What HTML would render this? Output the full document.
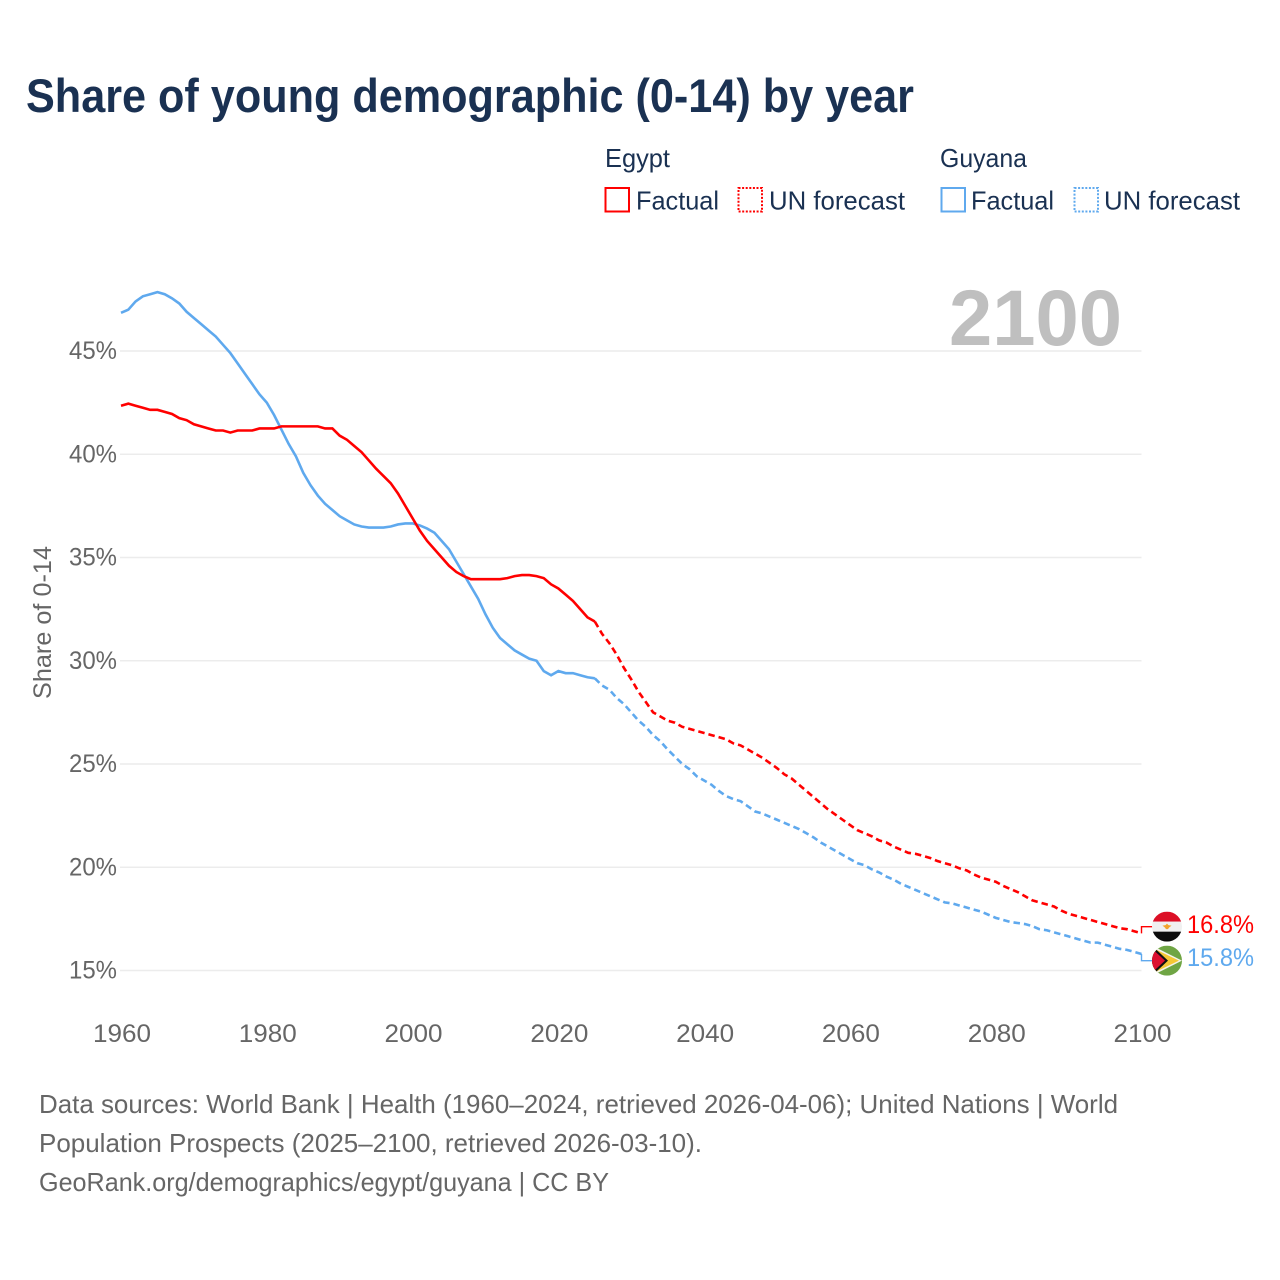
<!DOCTYPE html>
<html lang="en">
<head>
<meta charset="utf-8">
<title>Share of young demographic (0-14) by year</title>
<style>
  html, body { margin: 0; padding: 0; background: #fff; }
  svg { display: block; }
  text { font-family: "Liberation Sans", sans-serif; }
</style>
</head>
<body>
<svg id="chart" xmlns="http://www.w3.org/2000/svg" width="1280" height="1280" viewBox="0 0 1280 1280">
  <defs>
    <clipPath id="flag-clip-egypt"><circle cx="0" cy="0" r="15"></circle></clipPath>
    <clipPath id="flag-clip-guyana"><circle cx="0" cy="0" r="15"></circle></clipPath>
  </defs>
  <rect width="1280" height="1280" fill="#fff"></rect>

  <text x="26" y="112" font-size="47" font-weight="700" fill="#1a3152" textLength="888" lengthAdjust="spacingAndGlyphs">Share of young demographic (0-14) by year</text>

  <g font-size="26" fill="#1a3152">
    <text x="605" y="167" textLength="65" lengthAdjust="spacingAndGlyphs">Egypt</text>
    <rect x="605.5" y="188" width="23.5" height="23.5" fill="none" stroke="#ff0000" stroke-width="2"></rect>
    <text x="636" y="209.5" textLength="83" lengthAdjust="spacingAndGlyphs">Factual</text>
    <rect x="738.5" y="188" width="23.5" height="23.5" fill="none" stroke="#ff0000" stroke-width="2" stroke-dasharray="2 1.6"></rect>
    <text x="769" y="209.5" textLength="136" lengthAdjust="spacingAndGlyphs">UN forecast</text>

    <text x="940" y="167" textLength="87" lengthAdjust="spacingAndGlyphs">Guyana</text>
    <rect x="941.5" y="188" width="23.5" height="23.5" fill="none" stroke="#5fa9ee" stroke-width="2"></rect>
    <text x="971" y="209.5" textLength="83" lengthAdjust="spacingAndGlyphs">Factual</text>
    <rect x="1074.5" y="188" width="23.5" height="23.5" fill="none" stroke="#5fa9ee" stroke-width="2" stroke-dasharray="2 1.6"></rect>
    <text x="1104" y="209.5" textLength="136" lengthAdjust="spacingAndGlyphs">UN forecast</text>
  </g>

  <g id="grid"></g>

  <text x="1122" y="345" text-anchor="end" font-size="79" font-weight="700" fill="#bfbfbf" textLength="173" lengthAdjust="spacingAndGlyphs">2100</text>

  <g id="y-ticks"></g>
  <g id="x-ticks"></g>

  <text transform="translate(51 699) rotate(-90)" font-size="25" fill="#666" textLength="153" lengthAdjust="spacingAndGlyphs">Share of 0-14</text>

  <g id="series"></g>

  <g id="flag-egypt">
    <g clip-path="url(#flag-clip-egypt)">
      <rect x="-15" y="-15" width="30" height="10" fill="#dc0f26"></rect>
      <rect x="-15" y="-5" width="30" height="10" fill="#f0f0f0"></rect>
      <rect x="-15" y="5" width="30" height="10" fill="#0c0c0c"></rect>
      <path d="M-4.5 -1 L-1.5 -1.5 L0 -3 L1.5 -1.5 L4.5 -1 L2 1 L1 2.5 L-1 2.5 L-2 1 Z" fill="#f2a32c"></path>
    </g>
  </g>
  <g id="flag-guyana">
    <g clip-path="url(#flag-clip-guyana)">
      <rect x="-15" y="-15" width="30" height="30" fill="#6fa544"></rect>
      <path d="M-15 -15 L15 0 L-15 15 Z" fill="#f4f4ea"></path>
      <path d="M-15 -13 L12 0 L-15 13 Z" fill="#f6c835"></path>
      <path d="M-15 -15 L1 0 L-15 15 Z" fill="#111"></path>
      <path d="M-15 -12 L-2 0 L-15 12 Z" fill="#dc1030"></path>
    </g>
  </g>

  <text id="end-label-egypt" x="1187" y="933" font-size="25" fill="#ff0000" textLength="67" lengthAdjust="spacingAndGlyphs"></text>
  <text id="end-label-guyana" x="1187" y="966" font-size="25" fill="#5fa9ee" textLength="67" lengthAdjust="spacingAndGlyphs"></text>

  <g font-size="26" fill="#666">
    <text x="39" y="1113" textLength="1079" lengthAdjust="spacingAndGlyphs">Data sources: World Bank | Health (1960–2024, retrieved 2026-04-06); United Nations | World</text>
    <text x="39" y="1152" textLength="663" lengthAdjust="spacingAndGlyphs">Population Prospects (2025–2100, retrieved 2026-03-10).</text>
    <text x="39" y="1191" textLength="570" lengthAdjust="spacingAndGlyphs">GeoRank.org/demographics/egypt/guyana | CC BY</text>
  </g>
</svg>

<script>
const xTickYears = [1960, 1980, 2000, 2020, 2040, 2060, 2080, 2100];
const yTickValues = [15, 20, 25, 30, 35, 40, 45];
const factualFirstYear = 1960;
const forecastFirstYear = 2025;

const egyptFactual = [
  42.35,42.45,42.35,42.25,42.15,42.15,42.05,41.95,41.75,41.65,
  41.45,41.35,41.25,41.15,41.15,41.05,41.15,41.15,41.15,41.25,
  41.25,41.25,41.35,41.35,41.35,41.35,41.35,41.35,41.25,41.25,
  40.9,40.7,40.4,40.1,39.7,39.3,38.95,38.6,38.1,37.5,
  36.9,36.3,35.8,35.4,35.0,34.6,34.3,34.1,33.95,33.95,
  33.95,33.95,33.95,34.0,34.1,34.15,34.15,34.1,34.0,33.7,
  33.5,33.2,32.9,32.5,32.1,31.9
];
const guyanaFactual = [
  46.85,47.0,47.4,47.65,47.75,47.85,47.75,47.55,47.3,46.9,
  46.6,46.3,46.0,45.7,45.3,44.9,44.4,43.9,43.4,42.9,
  42.5,41.9,41.2,40.5,39.9,39.1,38.5,38.0,37.6,37.3,
  37.0,36.8,36.6,36.5,36.45,36.45,36.45,36.5,36.6,36.65,
  36.65,36.55,36.4,36.2,35.8,35.4,34.8,34.2,33.6,33.0,
  32.25,31.6,31.1,30.8,30.5,30.3,30.1,30.0,29.5,29.3,
  29.5,29.4,29.4,29.3,29.2,29.15
];
const egyptForecast = [
  31.9,31.3,30.85,30.3,29.65,29.1,28.5,28.0,27.5,27.3,
  27.1,27.0,26.8,26.7,26.6,26.5,26.4,26.3,26.2,26.0,
  25.9,25.7,25.5,25.3,25.05,24.8,24.5,24.3,24.0,23.7,
  23.4,23.1,22.8,22.55,22.3,22.05,21.8,21.65,21.5,21.3,
  21.2,21.0,20.85,20.7,20.65,20.55,20.45,20.3,20.2,20.1,
  19.95,19.85,19.65,19.5,19.4,19.3,19.1,18.95,18.8,18.6,
  18.4,18.3,18.2,18.1,17.9,17.75,17.65,17.55,17.45,17.35,
  17.25,17.15,17.05,17.0,16.9,16.8
];
const guyanaForecast = [
  29.15,28.8,28.6,28.2,27.9,27.5,27.1,26.8,26.4,26.1,
  25.7,25.35,25.0,24.75,24.4,24.2,24.0,23.7,23.45,23.3,
  23.2,22.95,22.7,22.6,22.45,22.3,22.15,22.0,21.85,21.65,
  21.45,21.2,21.0,20.8,20.6,20.4,20.2,20.1,19.9,19.75,
  19.55,19.4,19.2,19.05,18.9,18.75,18.6,18.45,18.3,18.25,
  18.15,18.05,17.95,17.85,17.7,17.55,17.45,17.35,17.3,17.25,
  17.15,17.0,16.95,16.85,16.75,16.65,16.55,16.45,16.35,16.35,
  16.25,16.15,16.05,16.0,15.9,15.8
];

const SVG_NS = 'http://www.w3.org/2000/svg';
function xScale(year) { return 121 + (year - 1960) * (1020.5 / 140); }
function yScale(value) { return 970.5 - (value - 15) * (619.5 / 30); }
function make(tag) { return document.createElementNS(SVG_NS, tag); }
function linePath(values, firstYear) {
  return values.map(function (v, i) {
    return (i ? 'L' : 'M') + xScale(firstYear + i).toFixed(2) + ' ' + yScale(v).toFixed(2);
  }).join(' ');
}

const gridGroup = document.getElementById('grid');
const yTickGroup = document.getElementById('y-ticks');
yTickValues.forEach(function (v) {
  const line = make('line');
  
  
  line.setAttribute('x1', 120);
  line.setAttribute('x2', 1141.5);
  line.setAttribute('y1', yScale(v));
  line.setAttribute('y2', yScale(v));
  line.setAttribute('stroke', '#ececec');
  line.setAttribute('stroke-width', 1.5);
  gridGroup.appendChild(line);

  const label = make('text');
  
  
  label.setAttribute('x', 117);
  label.setAttribute('y', yScale(v) + 8);
  label.setAttribute('text-anchor', 'end');
  label.setAttribute('font-size', 25);
  label.setAttribute('fill', '#666');
  label.setAttribute('textLength', 48);
  label.setAttribute('lengthAdjust', 'spacingAndGlyphs');
  label.textContent = v + '%';
  yTickGroup.appendChild(label);
});

const xTickGroup = document.getElementById('x-ticks');
xTickYears.forEach(function (year) {
  const label = make('text');
  
  
  label.setAttribute('x', xScale(year) + 1);
  label.setAttribute('y', 1042);
  label.setAttribute('text-anchor', 'middle');
  label.setAttribute('font-size', 25);
  label.setAttribute('fill', '#666');
  label.setAttribute('textLength', 58);
  label.setAttribute('lengthAdjust', 'spacingAndGlyphs');
  label.textContent = String(year);
  xTickGroup.appendChild(label);
});

const seriesGroup = document.getElementById('series');

const guyanaFactualLine = make('path');


guyanaFactualLine.setAttribute('d', linePath(guyanaFactual, factualFirstYear));
guyanaFactualLine.setAttribute('fill', 'none');
guyanaFactualLine.setAttribute('stroke', '#5fa9ee');
guyanaFactualLine.setAttribute('stroke-width', 2.6);
seriesGroup.appendChild(guyanaFactualLine);

const egyptFactualLine = make('path');


egyptFactualLine.setAttribute('d', linePath(egyptFactual, factualFirstYear));
egyptFactualLine.setAttribute('fill', 'none');
egyptFactualLine.setAttribute('stroke', '#ff0000');
egyptFactualLine.setAttribute('stroke-width', 2.6);
seriesGroup.appendChild(egyptFactualLine);

const guyanaForecastLine = make('path');


guyanaForecastLine.setAttribute('d', linePath(guyanaForecast, forecastFirstYear));
guyanaForecastLine.setAttribute('fill', 'none');
guyanaForecastLine.setAttribute('stroke', '#5fa9ee');
guyanaForecastLine.setAttribute('stroke-width', 2.6);
guyanaForecastLine.setAttribute('stroke-dasharray', '6.5 4');
seriesGroup.appendChild(guyanaForecastLine);

const egyptForecastLine = make('path');


egyptForecastLine.setAttribute('d', linePath(egyptForecast, forecastFirstYear));
egyptForecastLine.setAttribute('fill', 'none');
egyptForecastLine.setAttribute('stroke', '#ff0000');
egyptForecastLine.setAttribute('stroke-width', 2.6);
egyptForecastLine.setAttribute('stroke-dasharray', '6.5 4');
seriesGroup.appendChild(egyptForecastLine);

// End markers: flags sit at the last value, pushed apart when they would overlap.
const egyptLast = egyptForecast[egyptForecast.length - 1];
const guyanaLast = guyanaForecast[guyanaForecast.length - 1];
const endX = xScale(2100);
const egyptEndY = yScale(egyptLast);
const guyanaEndY = yScale(guyanaLast);
let egyptFlagY = egyptEndY;
let guyanaFlagY = guyanaEndY;
if (Math.abs(guyanaEndY - egyptEndY) < 34) {
  const mid = (egyptEndY + guyanaEndY) / 2;
  const sign = guyanaEndY >= egyptEndY ? 1 : -1;
  egyptFlagY = mid - 17 * sign;
  guyanaFlagY = mid + 17 * sign;
}

const egyptConnector = make('path');


egyptConnector.setAttribute('d', 'M' + endX + ' ' + egyptEndY + ' V' + egyptFlagY + ' H1153');
egyptConnector.setAttribute('fill', 'none');
egyptConnector.setAttribute('stroke', '#ff0000');
egyptConnector.setAttribute('stroke-width', 1.4);
seriesGroup.appendChild(egyptConnector);

const guyanaConnector = make('path');


guyanaConnector.setAttribute('d', 'M' + endX + ' ' + guyanaEndY + ' V' + guyanaFlagY + ' H1153');
guyanaConnector.setAttribute('fill', 'none');
guyanaConnector.setAttribute('stroke', '#5fa9ee');
guyanaConnector.setAttribute('stroke-width', 1.4);
seriesGroup.appendChild(guyanaConnector);

document.getElementById('flag-egypt').setAttribute('transform', 'translate(1167 ' + egyptFlagY + ')');
document.getElementById('flag-guyana').setAttribute('transform', 'translate(1167 ' + guyanaFlagY + ')');

const egyptLabel = document.getElementById('end-label-egypt');
egyptLabel.setAttribute('y', egyptFlagY + 6.5);
egyptLabel.textContent = egyptLast.toFixed(1) + '%';
const guyanaLabel = document.getElementById('end-label-guyana');
guyanaLabel.setAttribute('y', guyanaFlagY + 5.5);
guyanaLabel.textContent = guyanaLast.toFixed(1) + '%';
</script>
</body>
</html>
